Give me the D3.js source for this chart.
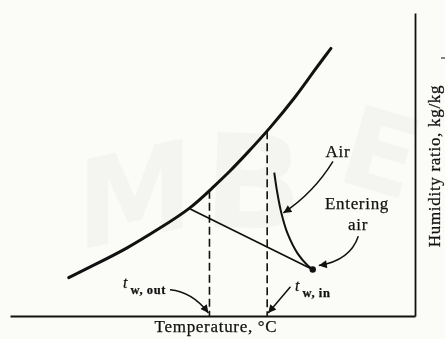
<!DOCTYPE html>
<html>
<head>
<meta charset="utf-8">
<script src="https://cdn.jsdelivr.net/npm/d3@7"></script>
<style>
  html, body { margin: 0; padding: 0; background: #fbfbf7; }
  svg { display: block; }
  .lab { font-family: "Liberation Serif", "Times New Roman", serif; fill: #111; stroke: #111; stroke-width: 0.25px; }
  .wm { font-family: "DejaVu Sans", sans-serif; font-weight: bold; fill: #000; }
</style>
</head>
<body>
<div id="chart"></div>
<script>
// saturation curve, temperature (°C) vs humidity ratio (kg/kg)
var satTemp = [5.8, 8.2, 11.6, 14.8, 17.8, 20.0, 21.7, 23.4, 25.6, 28.3, 29.9, 31.7];
var satW    = [0.0038, 0.0050, 0.0067, 0.0087, 0.0106, 0.0127, 0.0143, 0.0161, 0.0185, 0.0218, 0.0241, 0.0265];

// air path through the washer (entering state at the end)
var airTemp = [26.1, 26.4, 26.8, 27.4, 28.4, 29.4, 29.9];
var airW    = [0.0142, 0.0122, 0.0102, 0.0082, 0.0062, 0.0050, 0.0046];

// straight process line: leaving water state on curve -> entering air
var lineTemp = [17.8, 29.9];
var lineW    = [0.0106, 0.0046];

// water temperatures (dashed) and the saturation ratio at each
var waterNames = ["out", "in"];
var waterTemp  = [19.7, 25.4];
var waterSatW  = [0.0124, 0.0183];

var xDomain = [0, 40];
var yDomain = [0, 0.030];

var width = 445, height = 339;
var svg = d3.select('#chart').append('svg')
  .attr('width', width).attr('height', height);

svg.append('rect').attr('width', width).attr('height', height).attr('fill', '#fbfbf7');

// faint watermark
var wm = svg.append('g').attr('opacity', 0.03);
wm.append('text').attr('class', 'wm').attr('transform', 'translate(135,238) rotate(-12) skewX(-12)').attr('text-anchor', 'middle')
  .style('font-size', '120px').text('M');
wm.append('text').attr('class', 'wm').attr('transform', 'translate(252,228) rotate(2)').attr('text-anchor', 'middle')
  .style('font-size', '130px').text('B');
wm.append('text').attr('class', 'wm').attr('transform', 'translate(370,190) rotate(16)').attr('text-anchor', 'middle')
  .style('font-size', '110px').text('E');

var x = d3.scaleLinear().domain(xDomain).range([10, 415]);
var y = d3.scaleLinear().domain(yDomain).range([316, 13]);

var defs = svg.append('defs');
defs.append('marker').attr('id', 'arr')
  .attr('viewBox', '0 0 10 10').attr('refX', 10).attr('refY', 5)
  .attr('markerWidth', 10).attr('markerHeight', 8)
  .attr('markerUnits', 'userSpaceOnUse').attr('orient', 'auto')
  .append('path').attr('d', 'M0,0 L10,5 L0,10 Z').attr('fill', '#111');

// axes (no ticks, only the lines)
var xAxis = d3.axisBottom(x).tickValues([]).tickSizeOuter(0);
var yAxis = d3.axisLeft(y).tickValues([]).tickSizeOuter(0);
var gx = svg.append('g').attr('transform', 'translate(0,316)').call(xAxis);
var gy = svg.append('g').attr('transform', 'translate(415,0)').call(yAxis);
gx.select('.domain').attr('stroke', '#111').attr('stroke-width', 2);
gy.select('.domain').attr('stroke', '#111').attr('stroke-width', 1.8);

var smooth = d3.line().x(function(d){ return x(d[0]); }).y(function(d){ return y(d[1]); })
  .curve(d3.curveBasis);
var curve = d3.line().x(function(d){ return x(d[0]); }).y(function(d){ return y(d[1]); })
  .curve(d3.curveCatmullRom.alpha(0.5));
var straight = d3.line().x(function(d){ return x(d[0]); }).y(function(d){ return y(d[1]); });

// dashed wet-bulb lines
svg.selectAll('.wline').data(waterTemp).enter().append('line')
  .attr('x1', function(d){ return x(d); }).attr('x2', function(d){ return x(d); })
  .attr('y1', function(d, i){ return y(waterSatW[i]); }).attr('y2', y(0))
  .attr('stroke', '#111').attr('stroke-width', 1.6).attr('stroke-dasharray', '8,4');

// saturation curve
svg.append('path').datum(d3.zip(satTemp, satW)).attr('d', smooth)
  .attr('fill', 'none').attr('stroke', '#111').attr('stroke-width', 3).attr('stroke-linecap', 'round');

// process line
svg.append('path').datum(d3.zip(lineTemp, lineW)).attr('d', straight)
  .attr('fill', 'none').attr('stroke', '#111').attr('stroke-width', 1.8);

// air path
svg.append('path').datum(d3.zip(airTemp, airW)).attr('d', curve)
  .attr('fill', 'none').attr('stroke', '#111').attr('stroke-width', 2);

// entering air point
svg.append('circle').attr('cx', x(lineTemp[1])).attr('cy', y(lineW[1])).attr('r', 3.2).attr('fill', '#111');

// annotation arrows: start, control, tip (data units)
var arrows = [
  [[31.9, 0.0153], [30.0, 0.0122], [27.0, 0.0102]],
  [[34.4, 0.0079], [33.6, 0.0055], [30.5, 0.0050]],
  [[15.8, 0.0026], [18.0, 0.0024], [19.6, 0.0003]],
  [[27.7, 0.0029], [26.6, 0.0016], [25.5, 0.0003]]
];
svg.selectAll('.arrow').data(arrows).enter().append('path')
  .attr('d', function(a){
    return 'M' + x(a[0][0]) + ',' + y(a[0][1]) + ' Q' + x(a[1][0]) + ',' + y(a[1][1]) + ' ' + x(a[2][0]) + ',' + y(a[2][1]);
  })
  .attr('fill', 'none').attr('stroke', '#111').attr('stroke-width', 1.5).attr('marker-end', 'url(#arr)');

var lab = svg.append('g').style('font-size', '17px').style('letter-spacing', '0.7px');
lab.append('text').attr('class', 'lab').attr('x', 338).attr('y', 157).attr('text-anchor', 'middle').text('Air');
lab.append('text').attr('class', 'lab').attr('x', 357).attr('y', 209).attr('text-anchor', 'middle').text('Entering');
lab.append('text').attr('class', 'lab').attr('x', 358).attr('y', 230).attr('text-anchor', 'middle').text('air');
lab.append('text').attr('class', 'lab').attr('x', 216).attr('y', 332).attr('text-anchor', 'middle').text('Temperature, °C');
lab.append('text').attr('class', 'lab').attr('transform', 'translate(440,166) rotate(-90)').attr('text-anchor', 'middle')
  .text('Humidity ratio, kg/kg');
svg.append('line').attr('x1', 441).attr('x2', 445).attr('y1', 58).attr('y2', 58).attr('stroke', '#333').attr('stroke-width', 1.2);

// water temperature labels
var tpos = [[123, 288], [295, 291]];
waterNames.forEach(function(n, i){
  var t = svg.append('text').attr('class', 'lab').attr('x', tpos[i][0]).attr('y', tpos[i][1]);
  t.append('tspan').style('font-style', 'italic').style('font-size', '16px').text('t');
  t.append('tspan').attr('dx', 3).attr('dy', 6).style('font-size', '12.5px').style('font-weight', 'bold')
    .style('letter-spacing', '0.6px').text('w, ' + n);
});
</script>
</body>
</html>
